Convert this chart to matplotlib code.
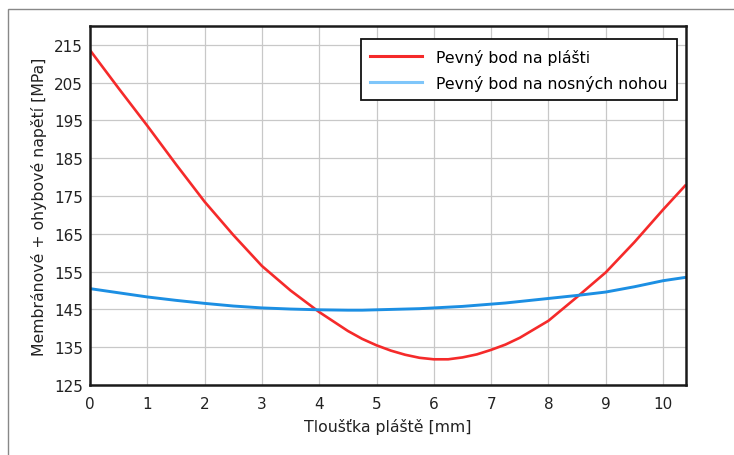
import matplotlib
matplotlib.use("Agg")
import matplotlib.pyplot as plt
from matplotlib.patches import Rectangle
from matplotlib.lines import Line2D

# values
thickness = [0, 0.5, 1, 1.5, 2, 2.5, 3, 3.5, 4, 4.5, 4.75, 5, 5.25, 5.5, 5.75,
             6, 6.25, 6.5, 6.75, 7, 7.25, 7.5, 8, 8.5, 9, 9.5, 10, 10.4]
stress_shell = [213.6, 203.5, 193.6, 183.4, 173.5, 164.7, 156.5, 150.0, 144.3,
                139.3, 137.2, 135.5, 134.1, 133.0, 132.2, 131.8, 131.8, 132.3,
                133.1, 134.3, 135.7, 137.5, 142.0, 148.3, 154.8, 162.8, 171.4,
                178.0]
stress_legs = [150.5, 149.4, 148.3, 147.4, 146.6, 145.9, 145.4, 145.1, 144.9,
               144.8, 144.8, 144.9, 145.0, 145.1, 145.2, 145.4, 145.6, 145.8,
               146.1, 146.4, 146.7, 147.1, 147.9, 148.7, 149.6, 151.0, 152.6,
               153.5]
labels = ["Pevný bod na plášti", "Pevný bod na nosných nohou"]
yticks = list(range(125, 216, 10))
xticks = list(range(0, 11))

red = "#f52a2a"
blue = "#1c8fe3"
blue_legend = "#7fc6fa"

fig = plt.figure(figsize=(7.34, 4.56), dpi=100)
ax = fig.add_axes([90/734, 1 - 386/456, 596/734, 359/456])

ax.plot(thickness, stress_shell, color=red, lw=1.9, solid_capstyle="butt")
ax.plot(thickness, stress_legs, color=blue, lw=2.1, solid_capstyle="butt")

ax.set_xlim(0, 10.4)
ax.set_ylim(125, 220)
ax.set_xticks(xticks)
ax.set_yticks(yticks)
ax.tick_params(length=0, labelsize=11, colors="#222222")
ax.tick_params(axis="x", pad=8)
ax.tick_params(axis="y", pad=5)
ax.grid(True, color="#c8c8c8", lw=0.9)
ax.set_axisbelow(True)
for s in ax.spines.values():
    s.set_linewidth(1.8)
    s.set_color("#1a1a1a")

ax.set_xlabel("Tloušťka pláště [mm]", fontsize=11.3, color="#222222", labelpad=5)
ax.set_ylabel("Membránové + ohybové napětí [MPa]", fontsize=11.3,
              color="#222222", labelpad=5)

handles = [Line2D([], [], color=red, lw=2.2),
           Line2D([], [], color=blue_legend, lw=2.2)]
leg = ax.legend(handles, labels, loc="upper right", bbox_to_anchor=(0.9845, 0.963),
                fontsize=11.3, fancybox=False, framealpha=1, edgecolor="#111111",
                handlelength=3.3, handletextpad=0.9, borderpad=0.6,
                labelspacing=0.65, borderaxespad=0)
leg.get_frame().set_linewidth(1.3)

# outer frame of the original picture
fig.patches.append(Rectangle((8/734, -0.5), 2, 1.5 - 10/456,
                             transform=fig.transFigure, fill=False,
                             edgecolor="#888888", lw=1))

fig.savefig("out.png", dpi=100)
